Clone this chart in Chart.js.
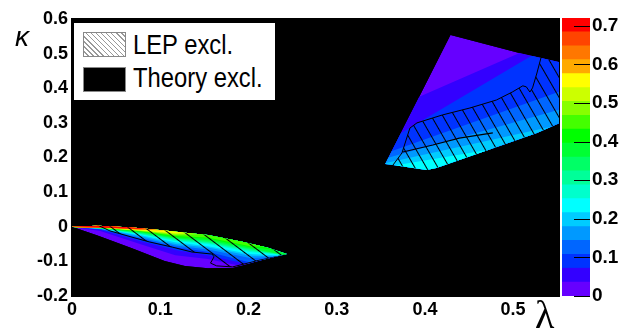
<!DOCTYPE html>
<html>
<head>
<meta charset="utf-8">
<script src="https://cdn.jsdelivr.net/npm/chart.js@4.4.1/dist/chart.umd.min.js"></script>
<style>
  body { margin: 0; background: #fff; }
  #wrap { position: relative; width: 631px; height: 331px; overflow: hidden; font-family: "Liberation Sans", Arial, sans-serif; }
  #main { position: absolute; left: 0; top: 0; }
  #zbar { position: absolute; left: 555px; top: 0; }
  #legend { position: absolute; left: 73px; top: 22px; width: 201px; height: 77px; background: #fff; border: 1px solid #000; }
  .sw { position: absolute; left: 9px; width: 41px; height: 23px; border: 1px solid #888; }
  #sw1 { top: 9px; background: repeating-linear-gradient(45deg, #fff 0 2.6px, #999 2.6px 3.6px); }
  #sw2 { top: 44px; background: #000; }
  .lt { position: absolute; left: 59px; font-size: 28px; line-height: 1; white-space: nowrap; transform: scaleX(0.85); transform-origin: 0 50%; }
  #kappa { position: absolute; left: 15px; top: 23px; font-size: 28px; font-style: italic; line-height: 1; }
  #lambda { position: absolute; left: 535px; top: 295px; font-family: "Liberation Serif", serif; font-size: 40px; line-height: 1; }
</style>
</head>
<body>
<div id="wrap">
  <canvas id="main" width="562" height="331"></canvas>
  <canvas id="zbar" width="76" height="331"></canvas>
  <div id="legend">
    <div class="sw" id="sw1"></div>
    <div class="lt" style="top:8px">LEP excl.</div>
    <div class="sw" id="sw2"></div>
    <div class="lt" style="top:41px">Theory excl.</div>
  </div>
  <div id="kappa">κ</div>
  <div id="lambda">λ</div>
</div>
<script>
// axes
const lambdaRange = [0, 0.552];
const kappaRange = [-0.2, 0.6];
const xTickValues = [0, 0.1, 0.2, 0.3, 0.4, 0.5];
const xTickLabels = ['0', '0.1', '0.2', '0.3', '0.4', '0.5'];
const yTickValues = [-0.2, -0.1, 0, 0.1, 0.2, 0.3, 0.4, 0.5, 0.6];
const yTickLabels = ['-0.2', '-0.1', '0', '0.1', '0.2', '0.3', '0.4', '0.5', '0.6'];
const zTickValues = [0, 0.1, 0.2, 0.3, 0.4, 0.5, 0.6, 0.7];
const zTickLabels = ['0', '0.1', '0.2', '0.3', '0.4', '0.5', '0.6', '0.7'];

// colour scale: 20 contour levels
const zLevels = [0, 0.036, 0.072, 0.108, 0.144, 0.18, 0.216, 0.252, 0.288, 0.324, 0.36,
  0.396, 0.432, 0.468, 0.504, 0.54, 0.576, 0.612, 0.648, 0.684, 0.72];
const zColors = ['#6600ff', '#3300ff', '#0033ff', '#0066ff', '#0099ff', '#00ccff', '#00ffff',
  '#00ffcc', '#00ff99', '#00ff66', '#00ff33', '#00ff00', '#44ff00', '#88ff00', '#ccff00',
  '#ffff00', '#ffaa00', '#ff7700', '#ff4400', '#ff0000'];

// allowed regions (lambda, kappa)
const upperOutline = [[0.429, 0.554], [0.507, 0.502], [0.58, 0.459], [0.58, 0.330], [0.553, 0.300],
  [0.527, 0.271], [0.488, 0.236], [0.413, 0.170], [0.402, 0.164], [0.364, 0.178], [0.355, 0.181]];
const lowerOutline = [[0, 0], [0.029, 0.003], [0.068, -0.002], [0.105, -0.011], [0.128, -0.017],
  [0.154, -0.024], [0.193, -0.043], [0.222, -0.061], [0.2435, -0.079], [0.211, -0.099],
  [0.182, -0.119], [0.154, -0.120], [0.128, -0.113], [0.105, -0.099], [0.068, -0.062], [0.029, -0.025]];

// contour boundaries inside the upper region (value grows below each line)
const upperBandX = [0.33, 0.60];
const upperBandLevels = [1, 2, 3, 4, 5, 6];
const upperBandEdges = [[0.305, 0.605], [0.206, 0.613], [0.189, 0.433], [0.179, 0.372], [0.170, 0.321], [0.162, 0.277]];

// contour boundaries inside the lower region (value grows above each line), levels 1..19
const lowerBandX = [0, 0.032, 0.077, 0.117, 0.154, 0.202, 0.244];
const lowerBandEdges = [
  [-0.001, -0.012, -0.050, -0.082, -0.093, -0.119, -0.090],
  [-0.001, -0.009, -0.041, -0.067, -0.082, -0.110, -0.088],
  [-0.001, -0.007, -0.035, -0.059, -0.072, -0.103, -0.087],
  [-0.001, -0.006, -0.031, -0.054, -0.066, -0.090, -0.086],
  [-0.001, -0.006, -0.027, -0.050, -0.060, -0.084, -0.085],
  [-0.001, -0.005, -0.024, -0.045, -0.056, -0.079, -0.084],
  [-0.001, -0.005, -0.022, -0.041, -0.050, -0.073, -0.083],
  [-0.001, -0.004, -0.020, -0.038, -0.047, -0.069, -0.083],
  [-0.001, -0.004, -0.018, -0.035, -0.044, -0.066, -0.082],
  [-0.001, -0.004, -0.016, -0.033, -0.040, -0.063, -0.082],
  [-0.001, -0.003, -0.014, -0.030, -0.035, -0.059, -0.070],
  [-0.001, -0.003, -0.013, -0.027, -0.031, -0.056, -0.060],
  [-0.001, -0.003, -0.012, -0.024, -0.022, -0.044, -0.050],
  [-0.001, -0.003, -0.011, -0.021, -0.018, -0.038, -0.045],
  [-0.001, -0.003, -0.010, -0.018, -0.015, -0.033, -0.040],
  [-0.001, -0.002, -0.009, -0.012, -0.009, -0.027, -0.035],
  [-0.001, -0.002, -0.008, -0.009, -0.004, -0.021, -0.030],
  [-0.001, -0.002, -0.007, -0.007, 0.002, -0.015, -0.025],
  [-0.001, -0.002, -0.006, -0.004, 0.008, -0.009, -0.020]
];

// LEP excluded areas
const upperLEP = [[0.362, 0.172], [0.374, 0.213], [0.383, 0.285], [0.391, 0.300], [0.420, 0.323],
  [0.451, 0.343], [0.481, 0.366], [0.499, 0.389], [0.511, 0.407], [0.515, 0.404], [0.519, 0.389],
  [0.522, 0.401], [0.527, 0.444], [0.532, 0.492], [0.58, 0.47], [0.58, 0.32], [0.553, 0.293],
  [0.527, 0.264], [0.488, 0.230], [0.413, 0.164], [0.402, 0.158], [0.362, 0.172]];
const lowerLEP = [[0.028, 0.006], [0.068, 0.004], [0.105, -0.005], [0.128, -0.011], [0.154, -0.018],
  [0.193, -0.037], [0.222, -0.055], [0.246, -0.079], [0.211, -0.0975], [0.182, -0.116],
  [0.164, -0.113], [0.157, -0.105], [0.161, -0.087], [0.159, -0.079], [0.136, -0.073],
  [0.114, -0.059], [0.088, -0.044], [0.068, -0.030], [0.043, -0.012], [0.028, 0.006]];
const upperContour = [[0.375, 0.216], [0.409, 0.236], [0.439, 0.256], [0.477, 0.271]];

function pts(list) {
  return list.map(p => ({x: p[0], y: p[1]}));
}

function area(list, color) {
  return {data: pts(list), fill: 'shape', backgroundColor: color,
    borderColor: 'rgba(0,0,0,0)', borderWidth: 0, pointRadius: 0};
}

function hatch(angle) {
  let c = document.createElement('canvas');
  c.width = 10; c.height = 10;
  let g = c.getContext('2d');
  g.fillStyle = '#000';
  g.fillRect(5, 0, 1, 10);
  let p = document.getElementById('main').getContext('2d').createPattern(c, 'repeat');
  p.setTransform(new DOMMatrix().rotateSelf(angle));
  return p;
}

// painter's order, bottom first
let layers = [];
layers.push(area(upperOutline, zColors[0]));
upperBandLevels.forEach(function(lev, i) {
  let e = upperBandEdges[i];
  layers.push(area([[upperBandX[0], e[0]], [upperBandX[1], e[1]],
    [upperBandX[1], kappaRange[0]], [upperBandX[0], kappaRange[0]]], zColors[lev]));
});
layers.push(area(lowerOutline, zColors[0]));
lowerBandEdges.forEach(function(e, i) {
  let poly = lowerBandX.map((x, j) => [x, e[j]]);
  poly.push([lowerBandX[lowerBandX.length - 1], kappaRange[1]], [lowerBandX[0], kappaRange[1]]);
  layers.push(area(poly, zColors[i + 1]));
});
layers.push({data: pts(upperLEP), fill: 'shape', backgroundColor: hatch(-30),
  borderColor: '#000', borderWidth: 1, pointRadius: 0});
layers.push({data: pts(lowerLEP), fill: 'shape', backgroundColor: hatch(-53),
  borderColor: '#000', borderWidth: 1, pointRadius: 0});
layers.push({data: pts(upperContour), fill: false, borderColor: '#000', borderWidth: 1.2, pointRadius: 0});

// black theory-excluded background + clip to the allowed regions
const regionClip = {
  id: 'regionClip',
  beforeDraw: function(chart) {
    let a = chart.chartArea;
    chart.ctx.save();
    chart.ctx.fillStyle = '#000';
    chart.ctx.fillRect(a.left - 1, a.top - 1, a.width + 2, a.height + 2);
    chart.ctx.restore();
  },
  beforeDatasetsDraw: function(chart) {
    let ctx = chart.ctx, sx = chart.scales.x, sy = chart.scales.y;
    ctx.save();
    ctx.beginPath();
    [upperOutline, lowerOutline].forEach(function(poly) {
      poly.forEach(function(p, i) {
        let px = sx.getPixelForValue(p[0]), py = sy.getPixelForValue(p[1]);
        if (i) ctx.lineTo(px, py); else ctx.moveTo(px, py);
      });
      ctx.closePath();
    });
    ctx.clip();
  },
  afterDatasetsDraw: function(chart) {
    chart.ctx.restore();
  }
};

const tickFont = {family: 'Liberation Sans', size: 18, weight: 'bold'};

new Chart(document.getElementById('main'), {
  type: 'line',
  data: {datasets: layers.reverse()},
  options: {
    responsive: false,
    animation: false,
    devicePixelRatio: 1,
    events: [],
    layout: {padding: {left: 0, top: 19, right: 3, bottom: 0}},
    plugins: {legend: {display: false}, tooltip: {enabled: false}},
    scales: {
      x: {
        type: 'linear', min: lambdaRange[0], max: lambdaRange[1],
        grid: {display: false, drawTicks: false}, border: {display: false},
        afterBuildTicks: function(s) { s.ticks = xTickValues.map(v => ({value: v})); },
        afterFit: function(s) { s.height = 35; },
        ticks: {color: '#000', font: tickFont, padding: 3, maxRotation: 0,
          callback: (v, i) => xTickLabels[i]}
      },
      y: {
        type: 'linear', min: kappaRange[0], max: kappaRange[1],
        grid: {display: false, drawTicks: false}, border: {display: false},
        afterBuildTicks: function(s) { s.ticks = yTickValues.map(v => ({value: v})); },
        afterFit: function(s) { s.width = 72; },
        ticks: {color: '#000', font: tickFont, padding: 4,
          callback: (v, i) => yTickLabels[i]}
      }
    }
  },
  plugins: [regionClip]
});

// colour bar
const zTickMarks = {
  id: 'zTickMarks',
  afterDatasetsDraw: function(chart) {
    let ctx = chart.ctx, s = chart.scales.y, r = chart.chartArea.right;
    ctx.save();
    ctx.strokeStyle = '#000';
    ctx.lineWidth = 1;
    s.ticks.forEach(function(t) {
      let py = Math.round(s.getPixelForValue(t.value)) + 0.5;
      ctx.beginPath(); ctx.moveTo(r - 16, py); ctx.lineTo(r, py); ctx.stroke();
    });
    ctx.restore();
  }
};

new Chart(document.getElementById('zbar'), {
  type: 'bar',
  data: {
    labels: ['z'],
    datasets: zColors.map((c, i) => ({data: [zLevels[i + 1]], backgroundColor: c, borderWidth: 0,
      grouped: false, categoryPercentage: 1, barPercentage: 1}))
  },
  options: {
    responsive: false,
    animation: false,
    devicePixelRatio: 1,
    events: [],
    layout: {padding: {left: 7, top: 18, right: 0, bottom: 35}},
    plugins: {legend: {display: false}, tooltip: {enabled: false}},
    scales: {
      x: {display: false},
      y: {
        position: 'right', min: zLevels[0], max: zLevels[zLevels.length - 1],
        grid: {display: false, drawTicks: false}, border: {display: false},
        afterBuildTicks: function(s) { s.ticks = zTickValues.map(v => ({value: v})); },
        afterFit: function(s) { s.width = 41; },
        ticks: {color: '#000', font: {family: 'Liberation Sans', size: 19, weight: 'bold'}, padding: 2,
          callback: (v, i) => zTickLabels[i]}
      }
    }
  },
  plugins: [zTickMarks]
});
</script>
</body>
</html>
